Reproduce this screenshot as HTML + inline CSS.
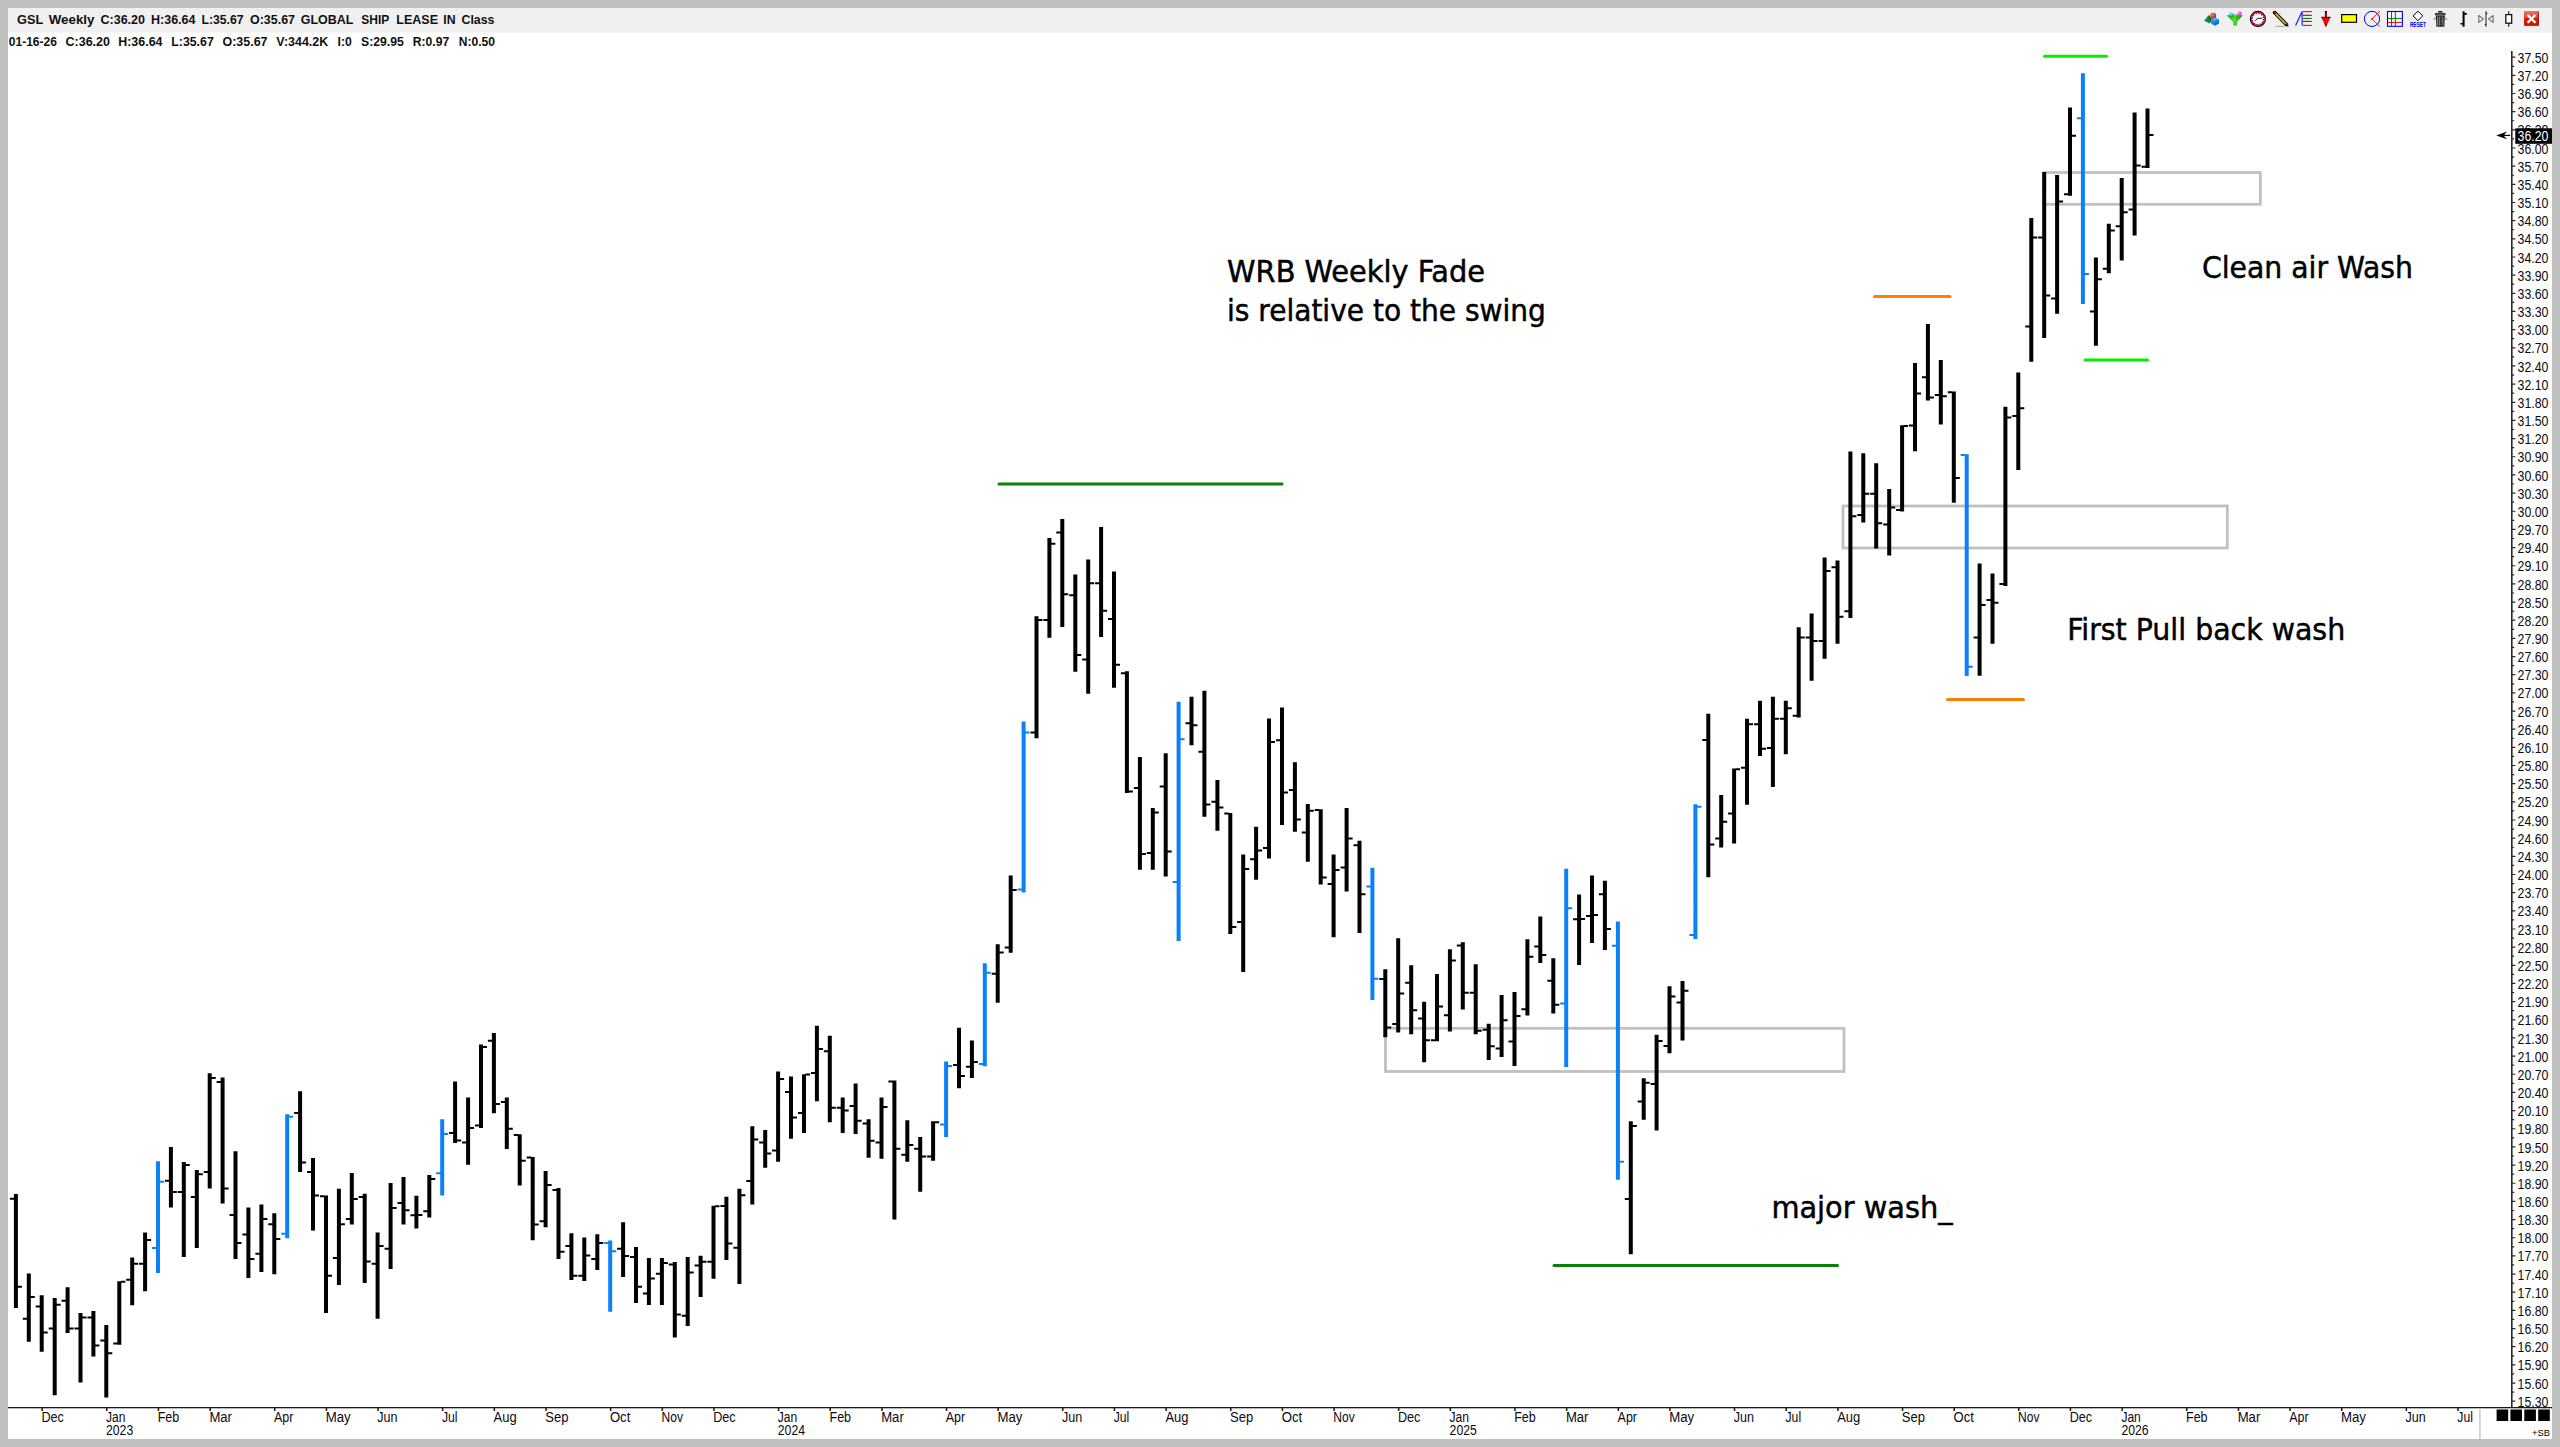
<!DOCTYPE html>
<html lang="en"><head><meta charset="utf-8"><title>GSL Weekly</title>
<style>
html,body{margin:0;padding:0;background:#c0c0c0;}
body{width:2560px;height:1447px;overflow:hidden;}
svg{display:block;}
.ui{font-family:"Liberation Sans",Arial,sans-serif;font-size:13.8px;fill:#0a0a14;}
.hd{font-family:"Liberation Sans",Arial,sans-serif;font-size:13.5px;font-weight:bold;fill:#101010;}
.an{font-family:"DejaVu Sans Condensed","DejaVu Sans","Liberation Sans",sans-serif;font-size:30px;fill:#000;stroke:#000;stroke-width:0.45px;}
.pl{font-size:13.8px;}
</style></head><body>
<svg width="2560" height="1447" viewBox="0 0 2560 1447">
<rect x="0" y="0" width="2560" height="1447" fill="#c0c0c0"/>
<rect x="8" y="8" width="2544" height="1431" fill="#ffffff"/>
<rect x="8" y="8" width="2544" height="24.5" fill="#f0f0f0"/>
<text class="hd" y="24" xml:space="preserve"><tspan x="17" textLength="26.00" lengthAdjust="spacingAndGlyphs">GSL</tspan> <tspan x="48.75" textLength="45.75" lengthAdjust="spacingAndGlyphs">Weekly</tspan> <tspan x="100.5" textLength="44.50" lengthAdjust="spacingAndGlyphs">C:36.20</tspan> <tspan x="151" textLength="44.50" lengthAdjust="spacingAndGlyphs">H:36.64</tspan> <tspan x="201.5" textLength="42.00" lengthAdjust="spacingAndGlyphs">L:35.67</tspan> <tspan x="250" textLength="45.00" lengthAdjust="spacingAndGlyphs">O:35.67</tspan> <tspan x="300.75" textLength="52.50" lengthAdjust="spacingAndGlyphs">GLOBAL</tspan> <tspan x="361.25" textLength="27.75" lengthAdjust="spacingAndGlyphs">SHIP</tspan> <tspan x="396.25" textLength="41.75" lengthAdjust="spacingAndGlyphs">LEASE</tspan> <tspan x="443.25" textLength="12.25" lengthAdjust="spacingAndGlyphs">IN</tspan> <tspan x="461.5" textLength="33.00" lengthAdjust="spacingAndGlyphs">Class</tspan></text>
<text class="hd" y="45.6" xml:space="preserve"><tspan x="8.75" textLength="48.25" lengthAdjust="spacingAndGlyphs">01-16-26</tspan> <tspan x="65.5" textLength="44.50" lengthAdjust="spacingAndGlyphs">C:36.20</tspan> <tspan x="118.25" textLength="44.25" lengthAdjust="spacingAndGlyphs">H:36.64</tspan> <tspan x="171.25" textLength="42.50" lengthAdjust="spacingAndGlyphs">L:35.67</tspan> <tspan x="222.5" textLength="45.00" lengthAdjust="spacingAndGlyphs">O:35.67</tspan> <tspan x="276.25" textLength="52.00" lengthAdjust="spacingAndGlyphs">V:344.2K</tspan> <tspan x="337.5" textLength="14.25" lengthAdjust="spacingAndGlyphs">I:0</tspan> <tspan x="361" textLength="42.75" lengthAdjust="spacingAndGlyphs">S:29.95</tspan> <tspan x="412.75" textLength="36.50" lengthAdjust="spacingAndGlyphs">R:0.97</tspan> <tspan x="458.75" textLength="36.25" lengthAdjust="spacingAndGlyphs">N:0.50</tspan></text>
<rect x="1385.5" y="1028.3" width="458.5" height="43.200000000000045" fill="none" stroke="#c0c0c0" stroke-width="2.8"/>
<rect x="1843" y="506" width="384.3000000000002" height="42" fill="none" stroke="#c0c0c0" stroke-width="2.8"/>
<rect x="2044" y="172.5" width="216.30000000000018" height="31.80000000000001" fill="none" stroke="#c0c0c0" stroke-width="2.8"/>
<line x1="999" y1="484" x2="1282" y2="484" stroke="#0a820a" stroke-width="3" stroke-linecap="round"/>
<line x1="1554" y1="1265.5" x2="1837.5" y2="1265.5" stroke="#0a820a" stroke-width="3" stroke-linecap="round"/>
<line x1="1874.5" y1="296.4" x2="1950" y2="296.4" stroke="#ff8000" stroke-width="3" stroke-linecap="round"/>
<line x1="1947.5" y1="699.5" x2="2023.5" y2="699.5" stroke="#ff8000" stroke-width="3" stroke-linecap="round"/>
<line x1="2044.5" y1="56.2" x2="2106.5" y2="56.2" stroke="#00f000" stroke-width="3" stroke-linecap="round"/>
<line x1="2085" y1="360.1" x2="2147.5" y2="360.1" stroke="#00f000" stroke-width="3" stroke-linecap="round"/>
<path fill="#000000" d="M13.9 1194.0h4V1308.1h-4zM9.9 1197.8h4.5v2h-4.5zM17.4 1285.8h4.5v2h-4.5zM26.8 1273.4h4V1341.8h-4zM22.8 1317.7h4.5v2h-4.5zM30.3 1296.0h4.5v2h-4.5zM39.7 1295.2h4V1351.8h-4zM35.7 1305.6h4.5v2h-4.5zM43.2 1331.5h4.5v2h-4.5zM52.7 1298.0h4V1395.3h-4zM48.7 1327.6h4.5v2h-4.5zM56.2 1303.7h4.5v2h-4.5zM65.6 1287.3h4V1333.0h-4zM61.6 1299.8h4.5v2h-4.5zM69.1 1327.6h4.5v2h-4.5zM78.5 1313.0h4V1382.6h-4zM74.5 1327.6h4.5v2h-4.5zM82.0 1316.5h4.5v2h-4.5zM91.4 1311.1h4V1356.5h-4zM87.4 1316.5h4.5v2h-4.5zM94.9 1344.6h4.5v2h-4.5zM104.3 1325.0h4V1397.4h-4zM100.3 1339.5h4.5v2h-4.5zM107.8 1352.2h4.5v2h-4.5zM117.3 1281.2h4V1344.7h-4zM113.3 1342.4h4.5v2h-4.5zM120.8 1280.7h4.5v2h-4.5zM130.2 1257.4h4V1305.2h-4zM126.2 1278.8h4.5v2h-4.5zM133.7 1262.7h4.5v2h-4.5zM143.1 1232.4h4V1291.3h-4zM139.1 1262.7h4.5v2h-4.5zM146.6 1239.0h4.5v2h-4.5zM168.9 1147.0h4V1207.5h-4zM164.9 1179.8h4.5v2h-4.5zM172.4 1191.0h4.5v2h-4.5zM181.8 1162.0h4V1257.0h-4zM177.8 1191.0h4.5v2h-4.5zM185.3 1164.0h4.5v2h-4.5zM194.8 1170.0h4V1248.0h-4zM190.8 1196.0h4.5v2h-4.5zM198.3 1173.2h4.5v2h-4.5zM207.7 1073.2h4V1188.5h-4zM203.7 1171.0h4.5v2h-4.5zM211.2 1077.0h4.5v2h-4.5zM220.6 1077.5h4V1203.5h-4zM216.6 1081.0h4.5v2h-4.5zM224.1 1187.5h4.5v2h-4.5zM233.5 1151.2h4V1259.0h-4zM229.5 1214.0h4.5v2h-4.5zM237.0 1242.0h4.5v2h-4.5zM246.4 1207.5h4V1278.0h-4zM242.4 1233.5h4.5v2h-4.5zM249.9 1258.0h4.5v2h-4.5zM259.4 1204.5h4V1272.0h-4zM255.4 1252.8h4.5v2h-4.5zM262.9 1218.0h4.5v2h-4.5zM272.3 1213.2h4V1274.2h-4zM268.3 1223.2h4.5v2h-4.5zM275.8 1238.0h4.5v2h-4.5zM298.1 1091.2h4V1172.0h-4zM294.1 1112.0h4.5v2h-4.5zM301.6 1161.5h4.5v2h-4.5zM311.0 1158.0h4V1230.5h-4zM307.0 1171.0h4.5v2h-4.5zM314.5 1194.5h4.5v2h-4.5zM324.0 1195.5h4V1313.0h-4zM320.0 1195.2h4.5v2h-4.5zM327.5 1274.8h4.5v2h-4.5zM336.9 1188.8h4V1285.0h-4zM332.9 1257.0h4.5v2h-4.5zM340.4 1223.2h4.5v2h-4.5zM349.8 1173.0h4V1224.5h-4zM345.8 1218.0h4.5v2h-4.5zM353.3 1198.0h4.5v2h-4.5zM362.7 1193.8h4V1283.0h-4zM358.7 1196.0h4.5v2h-4.5zM366.2 1260.5h4.5v2h-4.5zM375.6 1232.5h4V1318.8h-4zM371.6 1262.8h4.5v2h-4.5zM379.1 1245.0h4.5v2h-4.5zM388.6 1183.0h4V1269.0h-4zM384.6 1247.8h4.5v2h-4.5zM392.1 1207.0h4.5v2h-4.5zM401.5 1177.0h4V1224.5h-4zM397.5 1202.0h4.5v2h-4.5zM405.0 1209.2h4.5v2h-4.5zM414.4 1195.8h4V1228.5h-4zM410.4 1214.2h4.5v2h-4.5zM417.9 1214.0h4.5v2h-4.5zM427.3 1175.0h4V1217.5h-4zM423.3 1210.2h4.5v2h-4.5zM430.8 1178.0h4.5v2h-4.5zM453.1 1081.5h4V1143.0h-4zM449.1 1132.0h4.5v2h-4.5zM456.6 1139.5h4.5v2h-4.5zM466.1 1097.5h4V1164.8h-4zM462.1 1141.5h4.5v2h-4.5zM469.6 1127.0h4.5v2h-4.5zM479.0 1044.5h4V1128.0h-4zM475.0 1124.5h4.5v2h-4.5zM482.5 1046.0h4.5v2h-4.5zM491.9 1033.0h4V1113.2h-4zM487.9 1039.8h4.5v2h-4.5zM495.4 1103.0h4.5v2h-4.5zM504.8 1097.5h4V1149.0h-4zM500.8 1101.0h4.5v2h-4.5zM508.3 1127.8h4.5v2h-4.5zM517.7 1134.2h4V1185.5h-4zM513.7 1134.0h4.5v2h-4.5zM521.2 1159.8h4.5v2h-4.5zM530.7 1157.0h4V1240.2h-4zM526.7 1156.5h4.5v2h-4.5zM534.2 1223.5h4.5v2h-4.5zM543.6 1171.0h4V1227.2h-4zM539.6 1220.2h4.5v2h-4.5zM547.1 1184.0h4.5v2h-4.5zM556.5 1188.0h4V1259.0h-4zM552.5 1189.0h4.5v2h-4.5zM560.0 1250.8h4.5v2h-4.5zM569.4 1233.2h4V1280.0h-4zM565.4 1245.0h4.5v2h-4.5zM572.9 1274.8h4.5v2h-4.5zM582.3 1237.5h4V1281.0h-4zM578.3 1274.8h4.5v2h-4.5zM585.8 1254.5h4.5v2h-4.5zM595.3 1234.2h4V1270.0h-4zM591.3 1258.0h4.5v2h-4.5zM598.8 1242.0h4.5v2h-4.5zM621.1 1222.2h4V1277.0h-4zM617.1 1247.8h4.5v2h-4.5zM624.6 1255.0h4.5v2h-4.5zM634.0 1247.0h4V1303.0h-4zM630.0 1256.0h4.5v2h-4.5zM637.5 1285.8h4.5v2h-4.5zM646.9 1258.0h4V1305.0h-4zM642.9 1292.5h4.5v2h-4.5zM650.4 1277.5h4.5v2h-4.5zM659.9 1258.0h4V1305.0h-4zM655.9 1272.8h4.5v2h-4.5zM663.4 1262.0h4.5v2h-4.5zM672.8 1262.0h4V1337.5h-4zM668.8 1263.5h4.5v2h-4.5zM676.3 1313.5h4.5v2h-4.5zM685.7 1257.0h4V1326.0h-4zM681.7 1314.8h4.5v2h-4.5zM689.2 1271.5h4.5v2h-4.5zM698.6 1255.8h4V1297.0h-4zM694.6 1264.5h4.5v2h-4.5zM702.1 1260.8h4.5v2h-4.5zM711.5 1205.8h4V1278.8h-4zM707.5 1260.8h4.5v2h-4.5zM715.0 1205.2h4.5v2h-4.5zM724.4 1196.8h4V1260.0h-4zM720.4 1205.0h4.5v2h-4.5zM727.9 1242.5h4.5v2h-4.5zM737.4 1188.8h4V1284.0h-4zM733.4 1246.8h4.5v2h-4.5zM740.9 1194.2h4.5v2h-4.5zM750.3 1126.2h4V1204.5h-4zM746.3 1180.0h4.5v2h-4.5zM753.8 1138.5h4.5v2h-4.5zM763.2 1130.0h4V1167.8h-4zM759.2 1141.5h4.5v2h-4.5zM766.7 1152.5h4.5v2h-4.5zM776.1 1071.5h4V1161.8h-4zM772.1 1149.5h4.5v2h-4.5zM779.6 1078.0h4.5v2h-4.5zM789.0 1076.5h4V1138.8h-4zM785.0 1091.0h4.5v2h-4.5zM792.5 1116.5h4.5v2h-4.5zM802.0 1074.2h4V1133.0h-4zM798.0 1112.0h4.5v2h-4.5zM805.5 1073.5h4.5v2h-4.5zM814.9 1025.8h4V1101.2h-4zM810.9 1072.0h4.5v2h-4.5zM818.4 1048.0h4.5v2h-4.5zM827.8 1035.8h4V1122.2h-4zM823.8 1050.2h4.5v2h-4.5zM831.3 1106.8h4.5v2h-4.5zM840.7 1097.5h4V1133.0h-4zM836.7 1106.8h4.5v2h-4.5zM844.2 1109.5h4.5v2h-4.5zM853.6 1083.5h4V1134.0h-4zM849.6 1105.0h4.5v2h-4.5zM857.1 1119.8h4.5v2h-4.5zM866.6 1119.2h4V1157.8h-4zM862.6 1122.5h4.5v2h-4.5zM870.1 1139.8h4.5v2h-4.5zM879.5 1097.5h4V1158.8h-4zM875.5 1141.5h4.5v2h-4.5zM883.0 1106.0h4.5v2h-4.5zM892.4 1080.5h4V1219.5h-4zM888.4 1080.5h4.5v2h-4.5zM895.9 1147.8h4.5v2h-4.5zM905.3 1120.2h4V1161.8h-4zM901.3 1153.8h4.5v2h-4.5zM908.8 1144.0h4.5v2h-4.5zM918.2 1137.0h4V1191.8h-4zM914.2 1147.8h4.5v2h-4.5zM921.7 1155.5h4.5v2h-4.5zM931.1 1121.2h4V1160.8h-4zM927.1 1155.5h4.5v2h-4.5zM934.6 1121.2h4.5v2h-4.5zM957.0 1027.8h4V1088.2h-4zM953.0 1064.0h4.5v2h-4.5zM960.5 1075.0h4.5v2h-4.5zM969.9 1040.5h4V1078.0h-4zM965.9 1065.8h4.5v2h-4.5zM973.4 1061.0h4.5v2h-4.5zM995.7 944.2h4V1002.8h-4zM991.7 972.8h4.5v2h-4.5zM999.2 951.5h4.5v2h-4.5zM1008.7 875.5h4V952.8h-4zM1004.7 946.5h4.5v2h-4.5zM1012.2 889.0h4.5v2h-4.5zM1034.5 616.2h4V738.2h-4zM1030.5 731.5h4.5v2h-4.5zM1038.0 619.0h4.5v2h-4.5zM1047.4 538.0h4V637.8h-4zM1043.4 619.0h4.5v2h-4.5zM1050.9 542.8h4.5v2h-4.5zM1060.3 519.0h4V627.0h-4zM1056.3 531.5h4.5v2h-4.5zM1063.8 593.2h4.5v2h-4.5zM1073.3 574.5h4V671.8h-4zM1069.3 594.2h4.5v2h-4.5zM1076.8 654.0h4.5v2h-4.5zM1086.2 559.5h4V693.8h-4zM1082.2 658.5h4.5v2h-4.5zM1089.7 582.2h4.5v2h-4.5zM1099.1 527.0h4V637.0h-4zM1095.1 582.2h4.5v2h-4.5zM1102.6 609.8h4.5v2h-4.5zM1112.0 571.5h4V687.8h-4zM1108.0 618.0h4.5v2h-4.5zM1115.5 663.8h4.5v2h-4.5zM1124.9 671.2h4V793.0h-4zM1120.9 672.2h4.5v2h-4.5zM1128.4 790.5h4.5v2h-4.5zM1137.9 757.0h4V869.8h-4zM1133.9 787.0h4.5v2h-4.5zM1141.4 853.0h4.5v2h-4.5zM1150.8 808.0h4V869.8h-4zM1146.8 852.0h4.5v2h-4.5zM1154.3 811.5h4.5v2h-4.5zM1163.7 753.2h4V876.5h-4zM1159.7 785.5h4.5v2h-4.5zM1167.2 850.5h4.5v2h-4.5zM1189.5 696.8h4V745.2h-4zM1185.5 722.2h4.5v2h-4.5zM1193.0 724.2h4.5v2h-4.5zM1202.4 690.8h4V816.8h-4zM1198.4 750.8h4.5v2h-4.5zM1205.9 803.5h4.5v2h-4.5zM1215.4 780.0h4V830.8h-4zM1211.4 800.8h4.5v2h-4.5zM1218.9 806.5h4.5v2h-4.5zM1228.3 813.0h4V934.0h-4zM1224.3 812.5h4.5v2h-4.5zM1231.8 926.0h4.5v2h-4.5zM1241.2 854.5h4V972.0h-4zM1237.2 921.0h4.5v2h-4.5zM1244.7 868.0h4.5v2h-4.5zM1254.1 826.8h4V879.8h-4zM1250.1 858.2h4.5v2h-4.5zM1257.6 849.5h4.5v2h-4.5zM1267.0 718.5h4V858.5h-4zM1263.0 847.0h4.5v2h-4.5zM1270.5 741.0h4.5v2h-4.5zM1280.0 707.5h4V825.0h-4zM1276.0 739.2h4.5v2h-4.5zM1283.5 791.5h4.5v2h-4.5zM1292.9 762.2h4V831.8h-4zM1288.9 789.0h4.5v2h-4.5zM1296.4 818.5h4.5v2h-4.5zM1305.8 804.0h4V861.8h-4zM1301.8 831.5h4.5v2h-4.5zM1309.3 809.8h4.5v2h-4.5zM1318.7 809.2h4V884.5h-4zM1314.7 809.0h4.5v2h-4.5zM1322.2 876.5h4.5v2h-4.5zM1331.6 854.5h4V937.2h-4zM1327.6 883.0h4.5v2h-4.5zM1335.1 869.0h4.5v2h-4.5zM1344.6 808.0h4V891.5h-4zM1340.6 866.5h4.5v2h-4.5zM1348.1 837.5h4.5v2h-4.5zM1357.5 840.8h4V933.0h-4zM1353.5 844.2h4.5v2h-4.5zM1361.0 893.2h4.5v2h-4.5zM1383.3 969.2h4V1037.2h-4zM1379.3 978.0h4.5v2h-4.5zM1386.8 1026.5h4.5v2h-4.5zM1396.2 938.2h4V1032.5h-4zM1392.2 1023.0h4.5v2h-4.5zM1399.7 992.5h4.5v2h-4.5zM1409.2 965.2h4V1034.2h-4zM1405.2 981.8h4.5v2h-4.5zM1412.7 1009.2h4.5v2h-4.5zM1422.1 1001.8h4V1062.2h-4zM1418.1 1017.5h4.5v2h-4.5zM1425.6 1039.2h4.5v2h-4.5zM1435.0 974.0h4V1041.2h-4zM1431.0 1039.2h4.5v2h-4.5zM1438.5 1005.5h4.5v2h-4.5zM1447.9 949.2h4V1031.5h-4zM1443.9 1014.2h4.5v2h-4.5zM1451.4 959.5h4.5v2h-4.5zM1460.8 942.2h4V1009.5h-4zM1456.8 944.5h4.5v2h-4.5zM1464.3 991.8h4.5v2h-4.5zM1473.7 964.2h4V1034.2h-4zM1469.7 991.8h4.5v2h-4.5zM1477.2 1029.8h4.5v2h-4.5zM1486.7 1023.8h4V1060.0h-4zM1482.7 1028.8h4.5v2h-4.5zM1490.2 1045.2h4.5v2h-4.5zM1499.6 995.0h4V1057.0h-4zM1495.6 1047.5h4.5v2h-4.5zM1503.1 1019.2h4.5v2h-4.5zM1512.5 992.0h4V1066.0h-4zM1508.5 1040.5h4.5v2h-4.5zM1516.0 1015.0h4.5v2h-4.5zM1525.4 939.2h4V1015.5h-4zM1521.4 1008.2h4.5v2h-4.5zM1528.9 955.8h4.5v2h-4.5zM1538.3 916.5h4V963.0h-4zM1534.3 945.5h4.5v2h-4.5zM1541.8 954.0h4.5v2h-4.5zM1551.3 958.2h4V1013.5h-4zM1547.3 979.8h4.5v2h-4.5zM1554.8 1003.8h4.5v2h-4.5zM1577.1 894.5h4V965.0h-4zM1573.1 918.2h4.5v2h-4.5zM1580.6 918.0h4.5v2h-4.5zM1590.0 875.5h4V943.0h-4zM1586.0 915.0h4.5v2h-4.5zM1593.5 914.0h4.5v2h-4.5zM1602.9 880.8h4V950.0h-4zM1598.9 893.2h4.5v2h-4.5zM1606.4 928.0h4.5v2h-4.5zM1628.8 1121.2h4V1254.2h-4zM1624.8 1198.0h4.5v2h-4.5zM1632.3 1125.0h4.5v2h-4.5zM1641.7 1078.2h4V1119.8h-4zM1637.7 1100.5h4.5v2h-4.5zM1645.2 1081.8h4.5v2h-4.5zM1654.6 1034.8h4V1130.5h-4zM1650.6 1083.0h4.5v2h-4.5zM1658.1 1040.0h4.5v2h-4.5zM1667.5 986.2h4V1053.2h-4zM1663.5 1045.0h4.5v2h-4.5zM1671.0 995.5h4.5v2h-4.5zM1680.5 981.0h4V1040.5h-4zM1676.5 1001.5h4.5v2h-4.5zM1684.0 989.8h4.5v2h-4.5zM1706.3 713.8h4V877.2h-4zM1702.3 739.0h4.5v2h-4.5zM1709.8 843.5h4.5v2h-4.5zM1719.2 795.0h4V847.5h-4zM1715.2 837.5h4.5v2h-4.5zM1722.7 820.8h4.5v2h-4.5zM1732.1 768.5h4V843.5h-4zM1728.1 812.5h4.5v2h-4.5zM1735.6 768.2h4.5v2h-4.5zM1745.0 718.8h4V804.8h-4zM1741.0 766.8h4.5v2h-4.5zM1748.5 723.2h4.5v2h-4.5zM1758.0 700.8h4V756.0h-4zM1754.0 723.2h4.5v2h-4.5zM1761.5 747.8h4.5v2h-4.5zM1770.9 696.8h4V787.0h-4zM1766.9 747.0h4.5v2h-4.5zM1774.4 717.8h4.5v2h-4.5zM1783.8 700.8h4V754.2h-4zM1779.8 717.8h4.5v2h-4.5zM1787.3 707.2h4.5v2h-4.5zM1796.7 627.2h4V717.5h-4zM1792.7 714.8h4.5v2h-4.5zM1800.2 636.5h4.5v2h-4.5zM1809.6 613.5h4V680.8h-4zM1805.6 636.5h4.5v2h-4.5zM1813.1 640.0h4.5v2h-4.5zM1822.6 557.5h4V658.8h-4zM1818.6 640.0h4.5v2h-4.5zM1826.1 570.0h4.5v2h-4.5zM1835.5 560.5h4V643.8h-4zM1831.5 566.2h4.5v2h-4.5zM1839.0 615.8h4.5v2h-4.5zM1848.4 451.5h4V618.0h-4zM1844.4 610.2h4.5v2h-4.5zM1851.9 515.2h4.5v2h-4.5zM1861.3 453.2h4V522.5h-4zM1857.3 514.0h4.5v2h-4.5zM1864.8 492.8h4.5v2h-4.5zM1874.2 463.2h4V548.5h-4zM1870.2 492.8h4.5v2h-4.5zM1877.7 522.2h4.5v2h-4.5zM1887.2 489.0h4V555.5h-4zM1883.2 523.5h4.5v2h-4.5zM1890.7 506.5h4.5v2h-4.5zM1900.1 425.2h4V511.5h-4zM1896.1 509.0h4.5v2h-4.5zM1903.6 425.0h4.5v2h-4.5zM1913.0 363.0h4V451.2h-4zM1909.0 424.5h4.5v2h-4.5zM1916.5 392.5h4.5v2h-4.5zM1925.9 324.0h4V400.5h-4zM1921.9 376.2h4.5v2h-4.5zM1929.4 396.5h4.5v2h-4.5zM1938.8 360.0h4V424.5h-4zM1934.8 394.0h4.5v2h-4.5zM1942.3 395.2h4.5v2h-4.5zM1951.8 391.5h4V502.8h-4zM1947.8 391.2h4.5v2h-4.5zM1955.3 477.0h4.5v2h-4.5zM1977.6 563.5h4V675.8h-4zM1973.6 636.5h4.5v2h-4.5zM1981.1 604.0h4.5v2h-4.5zM1990.5 573.5h4V643.8h-4zM1986.5 599.0h4.5v2h-4.5zM1994.0 601.8h4.5v2h-4.5zM2003.4 406.8h4V586.0h-4zM1999.4 583.0h4.5v2h-4.5zM2006.9 416.5h4.5v2h-4.5zM2016.3 372.5h4V470.0h-4zM2012.3 415.0h4.5v2h-4.5zM2019.8 407.2h4.5v2h-4.5zM2029.3 218.0h4V361.8h-4zM2025.3 325.5h4.5v2h-4.5zM2032.8 236.5h4.5v2h-4.5zM2042.2 172.0h4V338.0h-4zM2038.2 236.5h4.5v2h-4.5zM2045.7 294.5h4.5v2h-4.5zM2055.1 175.0h4V313.8h-4zM2051.1 297.5h4.5v2h-4.5zM2058.6 200.5h4.5v2h-4.5zM2068.0 107.5h4V195.8h-4zM2064.0 193.2h4.5v2h-4.5zM2071.5 134.8h4.5v2h-4.5zM2093.9 257.5h4V345.8h-4zM2089.9 310.5h4.5v2h-4.5zM2097.4 278.2h4.5v2h-4.5zM2106.8 223.8h4V273.2h-4zM2102.8 267.8h4.5v2h-4.5zM2110.3 229.5h4.5v2h-4.5zM2119.7 178.0h4V260.5h-4zM2115.7 225.2h4.5v2h-4.5zM2123.2 211.2h4.5v2h-4.5zM2132.6 112.5h4V235.5h-4zM2128.6 208.5h4.5v2h-4.5zM2136.1 164.5h4.5v2h-4.5zM2145.5 108.5h4V168.0h-4zM2141.5 165.8h4.5v2h-4.5zM2149.0 134.0h4.5v2h-4.5z"/>
<path fill="#0a80fa" d="M156.0 1161.2h4V1273.0h-4zM152.0 1247.0h4.5v2h-4.5zM159.5 1180.8h4.5v2h-4.5zM285.2 1114.2h4V1238.2h-4zM281.2 1232.8h4.5v2h-4.5zM288.7 1115.8h4.5v2h-4.5zM440.2 1119.2h4V1195.5h-4zM436.2 1172.2h4.5v2h-4.5zM443.7 1133.0h4.5v2h-4.5zM608.2 1240.5h4V1311.8h-4zM604.2 1242.0h4.5v2h-4.5zM611.7 1250.2h4.5v2h-4.5zM944.1 1061.5h4V1137.0h-4zM940.1 1123.5h4.5v2h-4.5zM947.6 1065.0h4.5v2h-4.5zM982.8 963.2h4V1066.2h-4zM978.8 1063.0h4.5v2h-4.5zM986.3 971.8h4.5v2h-4.5zM1021.6 721.5h4V892.5h-4zM1017.6 888.5h4.5v2h-4.5zM1025.1 731.5h4.5v2h-4.5zM1176.6 701.8h4V941.0h-4zM1172.6 881.0h4.5v2h-4.5zM1180.1 738.2h4.5v2h-4.5zM1370.4 867.8h4V1000.0h-4zM1366.4 885.5h4.5v2h-4.5zM1373.9 977.8h4.5v2h-4.5zM1564.2 868.8h4V1067.0h-4zM1560.2 1002.5h4.5v2h-4.5zM1567.7 907.2h4.5v2h-4.5zM1615.9 921.5h4V1179.8h-4zM1611.9 944.8h4.5v2h-4.5zM1619.4 1160.8h4.5v2h-4.5zM1693.4 804.2h4V939.0h-4zM1689.4 934.0h4.5v2h-4.5zM1696.9 805.8h4.5v2h-4.5zM1964.7 454.2h4V676.0h-4zM1960.7 454.0h4.5v2h-4.5zM1968.2 665.8h4.5v2h-4.5zM2080.9 73.2h4V304.0h-4zM2076.9 117.2h4.5v2h-4.5zM2084.4 273.0h4.5v2h-4.5z"/>
<rect x="2511" y="51" width="1.6" height="1357" fill="#2a2a2a"/>
<path fill="#2a2a2a" d="M2512 56.60h3.4v1.2h-3.4zM2512 65.68h2.2v1.2h-2.2zM2512 74.76h3.4v1.2h-3.4zM2512 83.84h2.2v1.2h-2.2zM2512 92.92h3.4v1.2h-3.4zM2512 102.01h2.2v1.2h-2.2zM2512 111.09h3.4v1.2h-3.4zM2512 120.17h2.2v1.2h-2.2zM2512 129.25h3.4v1.2h-3.4zM2512 138.33h2.2v1.2h-2.2zM2512 147.41h3.4v1.2h-3.4zM2512 156.49h2.2v1.2h-2.2zM2512 165.57h3.4v1.2h-3.4zM2512 174.65h2.2v1.2h-2.2zM2512 183.73h3.4v1.2h-3.4zM2512 192.81h2.2v1.2h-2.2zM2512 201.90h3.4v1.2h-3.4zM2512 210.98h2.2v1.2h-2.2zM2512 220.06h3.4v1.2h-3.4zM2512 229.14h2.2v1.2h-2.2zM2512 238.22h3.4v1.2h-3.4zM2512 247.30h2.2v1.2h-2.2zM2512 256.38h3.4v1.2h-3.4zM2512 265.46h2.2v1.2h-2.2zM2512 274.54h3.4v1.2h-3.4zM2512 283.62h2.2v1.2h-2.2zM2512 292.71h3.4v1.2h-3.4zM2512 301.79h2.2v1.2h-2.2zM2512 310.87h3.4v1.2h-3.4zM2512 319.95h2.2v1.2h-2.2zM2512 329.03h3.4v1.2h-3.4zM2512 338.11h2.2v1.2h-2.2zM2512 347.19h3.4v1.2h-3.4zM2512 356.27h2.2v1.2h-2.2zM2512 365.35h3.4v1.2h-3.4zM2512 374.43h2.2v1.2h-2.2zM2512 383.52h3.4v1.2h-3.4zM2512 392.60h2.2v1.2h-2.2zM2512 401.68h3.4v1.2h-3.4zM2512 410.76h2.2v1.2h-2.2zM2512 419.84h3.4v1.2h-3.4zM2512 428.92h2.2v1.2h-2.2zM2512 438.00h3.4v1.2h-3.4zM2512 447.08h2.2v1.2h-2.2zM2512 456.16h3.4v1.2h-3.4zM2512 465.24h2.2v1.2h-2.2zM2512 474.33h3.4v1.2h-3.4zM2512 483.41h2.2v1.2h-2.2zM2512 492.49h3.4v1.2h-3.4zM2512 501.57h2.2v1.2h-2.2zM2512 510.65h3.4v1.2h-3.4zM2512 519.73h2.2v1.2h-2.2zM2512 528.81h3.4v1.2h-3.4zM2512 537.89h2.2v1.2h-2.2zM2512 546.97h3.4v1.2h-3.4zM2512 556.05h2.2v1.2h-2.2zM2512 565.14h3.4v1.2h-3.4zM2512 574.22h2.2v1.2h-2.2zM2512 583.30h3.4v1.2h-3.4zM2512 592.38h2.2v1.2h-2.2zM2512 601.46h3.4v1.2h-3.4zM2512 610.54h2.2v1.2h-2.2zM2512 619.62h3.4v1.2h-3.4zM2512 628.70h2.2v1.2h-2.2zM2512 637.78h3.4v1.2h-3.4zM2512 646.87h2.2v1.2h-2.2zM2512 655.95h3.4v1.2h-3.4zM2512 665.03h2.2v1.2h-2.2zM2512 674.11h3.4v1.2h-3.4zM2512 683.19h2.2v1.2h-2.2zM2512 692.27h3.4v1.2h-3.4zM2512 701.35h2.2v1.2h-2.2zM2512 710.43h3.4v1.2h-3.4zM2512 719.51h2.2v1.2h-2.2zM2512 728.59h3.4v1.2h-3.4zM2512 737.67h2.2v1.2h-2.2zM2512 746.76h3.4v1.2h-3.4zM2512 755.84h2.2v1.2h-2.2zM2512 764.92h3.4v1.2h-3.4zM2512 774.00h2.2v1.2h-2.2zM2512 783.08h3.4v1.2h-3.4zM2512 792.16h2.2v1.2h-2.2zM2512 801.24h3.4v1.2h-3.4zM2512 810.32h2.2v1.2h-2.2zM2512 819.40h3.4v1.2h-3.4zM2512 828.49h2.2v1.2h-2.2zM2512 837.57h3.4v1.2h-3.4zM2512 846.65h2.2v1.2h-2.2zM2512 855.73h3.4v1.2h-3.4zM2512 864.81h2.2v1.2h-2.2zM2512 873.89h3.4v1.2h-3.4zM2512 882.97h2.2v1.2h-2.2zM2512 892.05h3.4v1.2h-3.4zM2512 901.13h2.2v1.2h-2.2zM2512 910.21h3.4v1.2h-3.4zM2512 919.29h2.2v1.2h-2.2zM2512 928.38h3.4v1.2h-3.4zM2512 937.46h2.2v1.2h-2.2zM2512 946.54h3.4v1.2h-3.4zM2512 955.62h2.2v1.2h-2.2zM2512 964.70h3.4v1.2h-3.4zM2512 973.78h2.2v1.2h-2.2zM2512 982.86h3.4v1.2h-3.4zM2512 991.94h2.2v1.2h-2.2zM2512 1001.02h3.4v1.2h-3.4zM2512 1010.11h2.2v1.2h-2.2zM2512 1019.19h3.4v1.2h-3.4zM2512 1028.27h2.2v1.2h-2.2zM2512 1037.35h3.4v1.2h-3.4zM2512 1046.43h2.2v1.2h-2.2zM2512 1055.51h3.4v1.2h-3.4zM2512 1064.59h2.2v1.2h-2.2zM2512 1073.67h3.4v1.2h-3.4zM2512 1082.75h2.2v1.2h-2.2zM2512 1091.83h3.4v1.2h-3.4zM2512 1100.91h2.2v1.2h-2.2zM2512 1110.00h3.4v1.2h-3.4zM2512 1119.08h2.2v1.2h-2.2zM2512 1128.16h3.4v1.2h-3.4zM2512 1137.24h2.2v1.2h-2.2zM2512 1146.32h3.4v1.2h-3.4zM2512 1155.40h2.2v1.2h-2.2zM2512 1164.48h3.4v1.2h-3.4zM2512 1173.56h2.2v1.2h-2.2zM2512 1182.64h3.4v1.2h-3.4zM2512 1191.72h2.2v1.2h-2.2zM2512 1200.81h3.4v1.2h-3.4zM2512 1209.89h2.2v1.2h-2.2zM2512 1218.97h3.4v1.2h-3.4zM2512 1228.05h2.2v1.2h-2.2zM2512 1237.13h3.4v1.2h-3.4zM2512 1246.21h2.2v1.2h-2.2zM2512 1255.29h3.4v1.2h-3.4zM2512 1264.37h2.2v1.2h-2.2zM2512 1273.45h3.4v1.2h-3.4zM2512 1282.54h2.2v1.2h-2.2zM2512 1291.62h3.4v1.2h-3.4zM2512 1300.70h2.2v1.2h-2.2zM2512 1309.78h3.4v1.2h-3.4zM2512 1318.86h2.2v1.2h-2.2zM2512 1327.94h3.4v1.2h-3.4zM2512 1337.02h2.2v1.2h-2.2zM2512 1346.10h3.4v1.2h-3.4zM2512 1355.18h2.2v1.2h-2.2zM2512 1364.26h3.4v1.2h-3.4zM2512 1373.35h2.2v1.2h-2.2zM2512 1382.43h3.4v1.2h-3.4zM2512 1391.51h2.2v1.2h-2.2zM2512 1400.59h3.4v1.2h-3.4z"/>
<text class="ui pl" x="2517.6" y="62.80" textLength="30.8" lengthAdjust="spacingAndGlyphs">37.50</text>
<text class="ui pl" x="2517.6" y="80.96" textLength="30.8" lengthAdjust="spacingAndGlyphs">37.20</text>
<text class="ui pl" x="2517.6" y="99.12" textLength="30.8" lengthAdjust="spacingAndGlyphs">36.90</text>
<text class="ui pl" x="2517.6" y="117.29" textLength="30.8" lengthAdjust="spacingAndGlyphs">36.60</text>
<text class="ui pl" x="2517.6" y="135.45" textLength="30.8" lengthAdjust="spacingAndGlyphs">36.30</text>
<text class="ui pl" x="2517.6" y="153.61" textLength="30.8" lengthAdjust="spacingAndGlyphs">36.00</text>
<text class="ui pl" x="2517.6" y="171.77" textLength="30.8" lengthAdjust="spacingAndGlyphs">35.70</text>
<text class="ui pl" x="2517.6" y="189.93" textLength="30.8" lengthAdjust="spacingAndGlyphs">35.40</text>
<text class="ui pl" x="2517.6" y="208.10" textLength="30.8" lengthAdjust="spacingAndGlyphs">35.10</text>
<text class="ui pl" x="2517.6" y="226.26" textLength="30.8" lengthAdjust="spacingAndGlyphs">34.80</text>
<text class="ui pl" x="2517.6" y="244.42" textLength="30.8" lengthAdjust="spacingAndGlyphs">34.50</text>
<text class="ui pl" x="2517.6" y="262.58" textLength="30.8" lengthAdjust="spacingAndGlyphs">34.20</text>
<text class="ui pl" x="2517.6" y="280.74" textLength="30.8" lengthAdjust="spacingAndGlyphs">33.90</text>
<text class="ui pl" x="2517.6" y="298.91" textLength="30.8" lengthAdjust="spacingAndGlyphs">33.60</text>
<text class="ui pl" x="2517.6" y="317.07" textLength="30.8" lengthAdjust="spacingAndGlyphs">33.30</text>
<text class="ui pl" x="2517.6" y="335.23" textLength="30.8" lengthAdjust="spacingAndGlyphs">33.00</text>
<text class="ui pl" x="2517.6" y="353.39" textLength="30.8" lengthAdjust="spacingAndGlyphs">32.70</text>
<text class="ui pl" x="2517.6" y="371.55" textLength="30.8" lengthAdjust="spacingAndGlyphs">32.40</text>
<text class="ui pl" x="2517.6" y="389.72" textLength="30.8" lengthAdjust="spacingAndGlyphs">32.10</text>
<text class="ui pl" x="2517.6" y="407.88" textLength="30.8" lengthAdjust="spacingAndGlyphs">31.80</text>
<text class="ui pl" x="2517.6" y="426.04" textLength="30.8" lengthAdjust="spacingAndGlyphs">31.50</text>
<text class="ui pl" x="2517.6" y="444.20" textLength="30.8" lengthAdjust="spacingAndGlyphs">31.20</text>
<text class="ui pl" x="2517.6" y="462.36" textLength="30.8" lengthAdjust="spacingAndGlyphs">30.90</text>
<text class="ui pl" x="2517.6" y="480.53" textLength="30.8" lengthAdjust="spacingAndGlyphs">30.60</text>
<text class="ui pl" x="2517.6" y="498.69" textLength="30.8" lengthAdjust="spacingAndGlyphs">30.30</text>
<text class="ui pl" x="2517.6" y="516.85" textLength="30.8" lengthAdjust="spacingAndGlyphs">30.00</text>
<text class="ui pl" x="2517.6" y="535.01" textLength="30.8" lengthAdjust="spacingAndGlyphs">29.70</text>
<text class="ui pl" x="2517.6" y="553.17" textLength="30.8" lengthAdjust="spacingAndGlyphs">29.40</text>
<text class="ui pl" x="2517.6" y="571.34" textLength="30.8" lengthAdjust="spacingAndGlyphs">29.10</text>
<text class="ui pl" x="2517.6" y="589.50" textLength="30.8" lengthAdjust="spacingAndGlyphs">28.80</text>
<text class="ui pl" x="2517.6" y="607.66" textLength="30.8" lengthAdjust="spacingAndGlyphs">28.50</text>
<text class="ui pl" x="2517.6" y="625.82" textLength="30.8" lengthAdjust="spacingAndGlyphs">28.20</text>
<text class="ui pl" x="2517.6" y="643.98" textLength="30.8" lengthAdjust="spacingAndGlyphs">27.90</text>
<text class="ui pl" x="2517.6" y="662.15" textLength="30.8" lengthAdjust="spacingAndGlyphs">27.60</text>
<text class="ui pl" x="2517.6" y="680.31" textLength="30.8" lengthAdjust="spacingAndGlyphs">27.30</text>
<text class="ui pl" x="2517.6" y="698.47" textLength="30.8" lengthAdjust="spacingAndGlyphs">27.00</text>
<text class="ui pl" x="2517.6" y="716.63" textLength="30.8" lengthAdjust="spacingAndGlyphs">26.70</text>
<text class="ui pl" x="2517.6" y="734.79" textLength="30.8" lengthAdjust="spacingAndGlyphs">26.40</text>
<text class="ui pl" x="2517.6" y="752.96" textLength="30.8" lengthAdjust="spacingAndGlyphs">26.10</text>
<text class="ui pl" x="2517.6" y="771.12" textLength="30.8" lengthAdjust="spacingAndGlyphs">25.80</text>
<text class="ui pl" x="2517.6" y="789.28" textLength="30.8" lengthAdjust="spacingAndGlyphs">25.50</text>
<text class="ui pl" x="2517.6" y="807.44" textLength="30.8" lengthAdjust="spacingAndGlyphs">25.20</text>
<text class="ui pl" x="2517.6" y="825.60" textLength="30.8" lengthAdjust="spacingAndGlyphs">24.90</text>
<text class="ui pl" x="2517.6" y="843.77" textLength="30.8" lengthAdjust="spacingAndGlyphs">24.60</text>
<text class="ui pl" x="2517.6" y="861.93" textLength="30.8" lengthAdjust="spacingAndGlyphs">24.30</text>
<text class="ui pl" x="2517.6" y="880.09" textLength="30.8" lengthAdjust="spacingAndGlyphs">24.00</text>
<text class="ui pl" x="2517.6" y="898.25" textLength="30.8" lengthAdjust="spacingAndGlyphs">23.70</text>
<text class="ui pl" x="2517.6" y="916.41" textLength="30.8" lengthAdjust="spacingAndGlyphs">23.40</text>
<text class="ui pl" x="2517.6" y="934.58" textLength="30.8" lengthAdjust="spacingAndGlyphs">23.10</text>
<text class="ui pl" x="2517.6" y="952.74" textLength="30.8" lengthAdjust="spacingAndGlyphs">22.80</text>
<text class="ui pl" x="2517.6" y="970.90" textLength="30.8" lengthAdjust="spacingAndGlyphs">22.50</text>
<text class="ui pl" x="2517.6" y="989.06" textLength="30.8" lengthAdjust="spacingAndGlyphs">22.20</text>
<text class="ui pl" x="2517.6" y="1007.22" textLength="30.8" lengthAdjust="spacingAndGlyphs">21.90</text>
<text class="ui pl" x="2517.6" y="1025.39" textLength="30.8" lengthAdjust="spacingAndGlyphs">21.60</text>
<text class="ui pl" x="2517.6" y="1043.55" textLength="30.8" lengthAdjust="spacingAndGlyphs">21.30</text>
<text class="ui pl" x="2517.6" y="1061.71" textLength="30.8" lengthAdjust="spacingAndGlyphs">21.00</text>
<text class="ui pl" x="2517.6" y="1079.87" textLength="30.8" lengthAdjust="spacingAndGlyphs">20.70</text>
<text class="ui pl" x="2517.6" y="1098.03" textLength="30.8" lengthAdjust="spacingAndGlyphs">20.40</text>
<text class="ui pl" x="2517.6" y="1116.20" textLength="30.8" lengthAdjust="spacingAndGlyphs">20.10</text>
<text class="ui pl" x="2517.6" y="1134.36" textLength="30.8" lengthAdjust="spacingAndGlyphs">19.80</text>
<text class="ui pl" x="2517.6" y="1152.52" textLength="30.8" lengthAdjust="spacingAndGlyphs">19.50</text>
<text class="ui pl" x="2517.6" y="1170.68" textLength="30.8" lengthAdjust="spacingAndGlyphs">19.20</text>
<text class="ui pl" x="2517.6" y="1188.84" textLength="30.8" lengthAdjust="spacingAndGlyphs">18.90</text>
<text class="ui pl" x="2517.6" y="1207.01" textLength="30.8" lengthAdjust="spacingAndGlyphs">18.60</text>
<text class="ui pl" x="2517.6" y="1225.17" textLength="30.8" lengthAdjust="spacingAndGlyphs">18.30</text>
<text class="ui pl" x="2517.6" y="1243.33" textLength="30.8" lengthAdjust="spacingAndGlyphs">18.00</text>
<text class="ui pl" x="2517.6" y="1261.49" textLength="30.8" lengthAdjust="spacingAndGlyphs">17.70</text>
<text class="ui pl" x="2517.6" y="1279.65" textLength="30.8" lengthAdjust="spacingAndGlyphs">17.40</text>
<text class="ui pl" x="2517.6" y="1297.82" textLength="30.8" lengthAdjust="spacingAndGlyphs">17.10</text>
<text class="ui pl" x="2517.6" y="1315.98" textLength="30.8" lengthAdjust="spacingAndGlyphs">16.80</text>
<text class="ui pl" x="2517.6" y="1334.14" textLength="30.8" lengthAdjust="spacingAndGlyphs">16.50</text>
<text class="ui pl" x="2517.6" y="1352.30" textLength="30.8" lengthAdjust="spacingAndGlyphs">16.20</text>
<text class="ui pl" x="2517.6" y="1370.46" textLength="30.8" lengthAdjust="spacingAndGlyphs">15.90</text>
<text class="ui pl" x="2517.6" y="1388.63" textLength="30.8" lengthAdjust="spacingAndGlyphs">15.60</text>
<text class="ui pl" x="2517.6" y="1406.79" textLength="30.8" lengthAdjust="spacingAndGlyphs">15.30</text>
<rect x="2515.3" y="128.3" width="36.7" height="15.5" fill="#000"/>
<text class="ui pl" style="fill:#fff" x="2517.6" y="141.2" textLength="30.8" lengthAdjust="spacingAndGlyphs">36.20</text>
<path d="M2496.3 135.4 L2507 131.6 L2503.6 135.4 L2507 139.2 Z" fill="#000"/>
<rect x="2500" y="134.8" width="10.2" height="1.2" fill="#000"/>
<rect x="8" y="1407" width="2544" height="1.3" fill="#1a1a1a"/>
<text class="ui" x="41.4" y="1422" textLength="22.5" lengthAdjust="spacingAndGlyphs">Dec</text>
<text class="ui" x="106.0" y="1422" textLength="19.4" lengthAdjust="spacingAndGlyphs">Jan</text>
<text class="ui" x="106.0" y="1434.8" textLength="27.2" lengthAdjust="spacingAndGlyphs">2023</text>
<text class="ui" x="157.7" y="1422" textLength="21.6" lengthAdjust="spacingAndGlyphs">Feb</text>
<text class="ui" x="209.4" y="1422" textLength="22.6" lengthAdjust="spacingAndGlyphs">Mar</text>
<text class="ui" x="274.0" y="1422" textLength="19.4" lengthAdjust="spacingAndGlyphs">Apr</text>
<text class="ui" x="325.7" y="1422" textLength="25.0" lengthAdjust="spacingAndGlyphs">May</text>
<text class="ui" x="377.3" y="1422" textLength="20.2" lengthAdjust="spacingAndGlyphs">Jun</text>
<text class="ui" x="441.9" y="1422" textLength="15.6" lengthAdjust="spacingAndGlyphs">Jul</text>
<text class="ui" x="493.6" y="1422" textLength="23.0" lengthAdjust="spacingAndGlyphs">Aug</text>
<text class="ui" x="545.3" y="1422" textLength="23.2" lengthAdjust="spacingAndGlyphs">Sep</text>
<text class="ui" x="609.9" y="1422" textLength="20.4" lengthAdjust="spacingAndGlyphs">Oct</text>
<text class="ui" x="661.6" y="1422" textLength="21.4" lengthAdjust="spacingAndGlyphs">Nov</text>
<text class="ui" x="713.2" y="1422" textLength="22.5" lengthAdjust="spacingAndGlyphs">Dec</text>
<text class="ui" x="777.8" y="1422" textLength="19.4" lengthAdjust="spacingAndGlyphs">Jan</text>
<text class="ui" x="777.8" y="1434.8" textLength="27.2" lengthAdjust="spacingAndGlyphs">2024</text>
<text class="ui" x="829.5" y="1422" textLength="21.6" lengthAdjust="spacingAndGlyphs">Feb</text>
<text class="ui" x="881.2" y="1422" textLength="22.6" lengthAdjust="spacingAndGlyphs">Mar</text>
<text class="ui" x="945.8" y="1422" textLength="19.4" lengthAdjust="spacingAndGlyphs">Apr</text>
<text class="ui" x="997.4" y="1422" textLength="25.0" lengthAdjust="spacingAndGlyphs">May</text>
<text class="ui" x="1062.0" y="1422" textLength="20.2" lengthAdjust="spacingAndGlyphs">Jun</text>
<text class="ui" x="1113.7" y="1422" textLength="15.6" lengthAdjust="spacingAndGlyphs">Jul</text>
<text class="ui" x="1165.4" y="1422" textLength="23.0" lengthAdjust="spacingAndGlyphs">Aug</text>
<text class="ui" x="1230.0" y="1422" textLength="23.2" lengthAdjust="spacingAndGlyphs">Sep</text>
<text class="ui" x="1281.7" y="1422" textLength="20.4" lengthAdjust="spacingAndGlyphs">Oct</text>
<text class="ui" x="1333.3" y="1422" textLength="21.4" lengthAdjust="spacingAndGlyphs">Nov</text>
<text class="ui" x="1397.9" y="1422" textLength="22.5" lengthAdjust="spacingAndGlyphs">Dec</text>
<text class="ui" x="1449.6" y="1422" textLength="19.4" lengthAdjust="spacingAndGlyphs">Jan</text>
<text class="ui" x="1449.6" y="1434.8" textLength="27.2" lengthAdjust="spacingAndGlyphs">2025</text>
<text class="ui" x="1514.2" y="1422" textLength="21.6" lengthAdjust="spacingAndGlyphs">Feb</text>
<text class="ui" x="1565.9" y="1422" textLength="22.6" lengthAdjust="spacingAndGlyphs">Mar</text>
<text class="ui" x="1617.6" y="1422" textLength="19.4" lengthAdjust="spacingAndGlyphs">Apr</text>
<text class="ui" x="1669.2" y="1422" textLength="25.0" lengthAdjust="spacingAndGlyphs">May</text>
<text class="ui" x="1733.8" y="1422" textLength="20.2" lengthAdjust="spacingAndGlyphs">Jun</text>
<text class="ui" x="1785.5" y="1422" textLength="15.6" lengthAdjust="spacingAndGlyphs">Jul</text>
<text class="ui" x="1837.2" y="1422" textLength="23.0" lengthAdjust="spacingAndGlyphs">Aug</text>
<text class="ui" x="1901.8" y="1422" textLength="23.2" lengthAdjust="spacingAndGlyphs">Sep</text>
<text class="ui" x="1953.5" y="1422" textLength="20.4" lengthAdjust="spacingAndGlyphs">Oct</text>
<text class="ui" x="2018.0" y="1422" textLength="21.4" lengthAdjust="spacingAndGlyphs">Nov</text>
<text class="ui" x="2069.7" y="1422" textLength="22.5" lengthAdjust="spacingAndGlyphs">Dec</text>
<text class="ui" x="2121.4" y="1422" textLength="19.4" lengthAdjust="spacingAndGlyphs">Jan</text>
<text class="ui" x="2121.4" y="1434.8" textLength="27.2" lengthAdjust="spacingAndGlyphs">2026</text>
<text class="ui" x="2186.0" y="1422" textLength="21.6" lengthAdjust="spacingAndGlyphs">Feb</text>
<text class="ui" x="2237.7" y="1422" textLength="22.6" lengthAdjust="spacingAndGlyphs">Mar</text>
<text class="ui" x="2289.3" y="1422" textLength="19.4" lengthAdjust="spacingAndGlyphs">Apr</text>
<text class="ui" x="2341.0" y="1422" textLength="25.0" lengthAdjust="spacingAndGlyphs">May</text>
<text class="ui" x="2405.6" y="1422" textLength="20.2" lengthAdjust="spacingAndGlyphs">Jun</text>
<text class="ui" x="2457.3" y="1422" textLength="15.6" lengthAdjust="spacingAndGlyphs">Jul</text>
<path fill="#1a1a1a" d="M41.4 1408h1.5v3h-1.5zM106.0 1408h1.5v3h-1.5zM157.7 1408h1.5v3h-1.5zM209.4 1408h1.5v3h-1.5zM274.0 1408h1.5v3h-1.5zM325.7 1408h1.5v3h-1.5zM377.3 1408h1.5v3h-1.5zM441.9 1408h1.5v3h-1.5zM493.6 1408h1.5v3h-1.5zM545.3 1408h1.5v3h-1.5zM609.9 1408h1.5v3h-1.5zM661.6 1408h1.5v3h-1.5zM713.2 1408h1.5v3h-1.5zM777.8 1408h1.5v3h-1.5zM829.5 1408h1.5v3h-1.5zM881.2 1408h1.5v3h-1.5zM945.8 1408h1.5v3h-1.5zM997.4 1408h1.5v3h-1.5zM1062.0 1408h1.5v3h-1.5zM1113.7 1408h1.5v3h-1.5zM1165.4 1408h1.5v3h-1.5zM1230.0 1408h1.5v3h-1.5zM1281.7 1408h1.5v3h-1.5zM1333.3 1408h1.5v3h-1.5zM1397.9 1408h1.5v3h-1.5zM1449.6 1408h1.5v3h-1.5zM1514.2 1408h1.5v3h-1.5zM1565.9 1408h1.5v3h-1.5zM1617.6 1408h1.5v3h-1.5zM1669.2 1408h1.5v3h-1.5zM1733.8 1408h1.5v3h-1.5zM1785.5 1408h1.5v3h-1.5zM1837.2 1408h1.5v3h-1.5zM1901.8 1408h1.5v3h-1.5zM1953.5 1408h1.5v3h-1.5zM2018.0 1408h1.5v3h-1.5zM2069.7 1408h1.5v3h-1.5zM2121.4 1408h1.5v3h-1.5zM2186.0 1408h1.5v3h-1.5zM2237.7 1408h1.5v3h-1.5zM2289.3 1408h1.5v3h-1.5zM2341.0 1408h1.5v3h-1.5zM2405.6 1408h1.5v3h-1.5zM2457.3 1408h1.5v3h-1.5z"/>
<rect x="2479" y="1408.3" width="1.8" height="30.7" fill="#d4d4d4"/>
<rect x="2496.6" y="1409.5" width="11.6" height="11.5" fill="#000"/>
<rect x="2510.4" y="1409.5" width="11.6" height="11.5" fill="#000"/>
<rect x="2524.3" y="1409.5" width="11.6" height="11.5" fill="#000"/>
<rect x="2538.2" y="1409.5" width="11.6" height="11.5" fill="#000"/>
<text x="2532" y="1436.3" style="font-family:'Liberation Sans',Arial,sans-serif;font-size:9.5px;fill:#000" textLength="18" lengthAdjust="spacingAndGlyphs">+SB</text>
<text class="an" x="1227.1" y="281.5" textLength="258" lengthAdjust="spacingAndGlyphs">WRB Weekly Fade</text>
<text class="an" x="1227" y="320.7" textLength="318.8" lengthAdjust="spacingAndGlyphs">is relative to the swing</text>
<text class="an" x="2202" y="277.5" textLength="211" lengthAdjust="spacingAndGlyphs">Clean air Wash</text>
<text class="an" x="2067.2" y="639.5" textLength="278" lengthAdjust="spacingAndGlyphs">First Pull back wash</text>
<text class="an" x="1771.4" y="1218" textLength="181.2" lengthAdjust="spacingAndGlyphs">major wash_</text>
<defs><radialGradient id="gR" cx="0.35" cy="0.3" r="0.8"><stop offset="0" stop-color="#f08070"/><stop offset="1" stop-color="#b01010"/></radialGradient><radialGradient id="gB" cx="0.35" cy="0.3" r="0.8"><stop offset="0" stop-color="#a0e0ff"/><stop offset="1" stop-color="#1898e8"/></radialGradient><linearGradient id="gF" x1="0" x2="1" y1="0" y2="0"><stop offset="0" stop-color="#1ca012"/><stop offset="0.45" stop-color="#58dc3c"/><stop offset="1" stop-color="#0c8808"/></linearGradient><linearGradient id="gX" x1="0" x2="0" y1="0" y2="1"><stop offset="0" stop-color="#ec7a68"/><stop offset="0.45" stop-color="#e04432"/><stop offset="0.5" stop-color="#d82008"/><stop offset="1" stop-color="#d41800"/></linearGradient></defs>
<g>
<circle cx="2213.1" cy="15.9" r="3.1" fill="url(#gR)"/>
<path d="M2204.2 20.7L2208.6 14.9L2211.6 19.5L2209.6 23.6Z" fill="#0c9040"/>
<path d="M2208.6 14.9L2211.6 19.5L2209.6 23.6Z" fill="#0a6a2c"/>
<path d="M2215 17.6L2218.9 19.4L2218.9 23.6L2214.8 25.8L2211.1 23.75L2211.1 19.6Z" fill="#1a88e8"/>
<path d="M2215 17.6L2218.9 19.4L2214.9 21.4L2211.1 19.6Z" fill="#48a8f8"/>
<path d="M2218.9 19.4L2218.9 23.6L2214.8 25.8L2214.9 21.4Z" fill="#0c70d0"/>
</g>
<g>
<path d="M2227 15.6L2242.6 15.6L2237 21.9L2237 25.2Q2235 26.2 2233 25.2L2233 21.9Z" fill="url(#gF)"/>
<ellipse cx="2234.8" cy="15.8" rx="7.6" ry="1.6" fill="#28b818"/>
<circle cx="2230.9" cy="14.4" r="2.1" fill="url(#gB)"/>
<circle cx="2239.8" cy="13.4" r="1.9" fill="#f030f0"/><circle cx="2239.6" cy="13.3" r="0.7" fill="#ffd0ff"/>
<ellipse cx="2235.4" cy="15.5" rx="1.6" ry="0.9" fill="#f0c020" transform="rotate(-30 2235.4 15.5)"/>
</g>
<g>
<circle cx="2257.9" cy="18.9" r="7.5" fill="#fff" stroke="#000" stroke-width="1.2"/>
<circle cx="2257.9" cy="18.9" r="6.5" fill="none" stroke="#ff0000" stroke-width="1.1"/>
<circle cx="2257.9" cy="18.9" r="5.5" fill="none" stroke="#0000ff" stroke-width="1.3" stroke-dasharray="1.0 1.88"/>
<path d="M2255.3 20.9L2257.4 18.3L2261.9 18.3" fill="none" stroke="#000" stroke-width="0.9"/>
</g>
<g>
<path d="M2275.7 26.4H2284.4" stroke="#909090" stroke-width="0.8"/>
<path d="M2274.6 12.6L2286.4 24.6" stroke="#000" stroke-width="3.6" stroke-linecap="round"/>
<path d="M2275.6 13.6L2285.2 23.4" stroke="#c8c000" stroke-width="1.8"/>
<path d="M2284.2 24.4L2286.4 22.2L2288.8 26.8Z" fill="#202020"/>
<path d="M2284.6 23.8L2286 22.6L2286.9 24.6Z" fill="#a0a0a0"/>
<circle cx="2274.8" cy="12.7" r="1.1" fill="#ff0000"/>
</g>
<g stroke-width="1.1">
<path d="M2295.6 25.4L2302.1 11.6V25.4" fill="none" stroke="#2020ff" stroke-width="1.2"/>
<path d="M2302.6 11.6H2311.8" stroke="#ff0000"/>
<path d="M2302.6 15.3H2311.8" stroke="#800080"/>
<path d="M2302.6 18.4H2311.8" stroke="#008000"/>
<path d="M2302.6 21.4H2311.8" stroke="#800080"/>
<path d="M2302.6 25.4H2311.8" stroke="#ff0000"/>
</g>
<g>
<rect x="2324.9" y="11.2" width="2" height="7" fill="#800000"/><rect x="2324.9" y="11" width="2" height="0.9" fill="#000"/>
<path d="M2321.2 17.3H2330.6L2325.9 26.9Z" fill="#ff0000"/>
<path d="M2321.2 17.3H2330.6" stroke="#000" stroke-width="0.9"/>
<path d="M2324.4 23.6H2327.4L2325.9 26.9Z" fill="#800000"/>
</g>
<rect x="2341.7" y="14.6" width="14.8" height="7.7" fill="#ffff00" stroke="#000" stroke-width="1.2"/>
<g fill="none">
<circle cx="2372" cy="18.9" r="7.6" stroke="#0000ff" stroke-width="1"/>
<path d="M2379.9 11.2L2372 18.9L2379.9 26.6" stroke="#ff0000" stroke-width="0.9"/>
<circle cx="2372" cy="18.9" r="1" fill="#ff0000"/>
</g>
<g>
<rect x="2387.5" y="11.5" width="14.9" height="14.8" fill="#f4f8fa" stroke="#0000ff" stroke-width="1.1"/>
<path d="M2388 18.4H2402" stroke="#008000" stroke-width="1"/><path d="M2388 22.4H2402" stroke="#ff0000" stroke-width="1"/>
<path d="M2391.5 12V26" stroke="#ff0000" stroke-width="1"/><path d="M2395.4 12V26" stroke="#008000" stroke-width="1"/>
</g>
<path d="M2417.9 11.2L2422.8 15.9L2417.9 20.6L2413 15.9Z" fill="#fff" stroke="#000" stroke-width="1"/>
<text x="2409.9" y="26.75" textLength="15.9" lengthAdjust="spacingAndGlyphs" style="font-family:'Liberation Sans',Arial,sans-serif;font-size:6.6px;font-weight:bold;fill:#0000ff">RESET</text>
<g>
<rect x="2438.2" y="11" width="4.3" height="1.6" fill="#222"/>
<rect x="2435" y="13" width="10.5" height="2.3" rx="0.6" fill="#1a1a1a"/><rect x="2436" y="13.8" width="8.5" height="0.6" fill="#aaa"/>
<path d="M2435.9 15.6H2444.8L2444.3 26.8H2436.4Z" fill="#1c1c1c"/>
<path d="M2437.6 16.5V25.8M2439.3 16.5V25.8M2442.9 16.5V25.8" stroke="#b0b0b0" stroke-width="0.8"/>
<path d="M2441.1 16.5V25.8" stroke="#ddd" stroke-width="0.6" stroke-dasharray="1 0.8"/>
<path d="M2435.9 17.6L2433.8 19.8M2444.8 17.6L2446.9 19.8" stroke="#222" stroke-width="0.8"/>
</g>
<path d="M2462.6 11.2h2v1.8h2.2v1.7h-2.2v12.1h-2v-2.2h-2.2v-1.7h2.2z" fill="#000"/>
<g fill="none" stroke="#6c6c6c" stroke-width="1.1" stroke-linejoin="round">
<path d="M2486 11.2V26.8" stroke-width="1.6"/>
<path d="M2478.8 15.5V22.4L2483.4 18.9Z"/><path d="M2493.1 15.5V22.4L2488.5 18.9Z"/>
</g>
<rect x="2486" y="12.9" width="1.2" height="1" fill="#000"/><rect x="2484.9" y="24" width="1.2" height="1" fill="#000"/>
<path d="M2508.7 11.2V26.8" stroke="#333" stroke-width="1.3"/>
<rect x="2505.8" y="14.6" width="5.9" height="8.6" fill="#fff" stroke="#000" stroke-width="1.2"/>
<g>
<rect x="2524" y="11" width="14.8" height="14.6" rx="0.8" fill="url(#gX)"/>
<path d="M2538.4 11.4V25.3H2524.4" fill="none" stroke="#8a0a00" stroke-width="0.8"/>
<path d="M2527.6 15L2535.4 22.8M2535.4 15L2527.6 22.8" stroke="#fff" stroke-width="2.3"/>
</g>
</svg></body></html>
